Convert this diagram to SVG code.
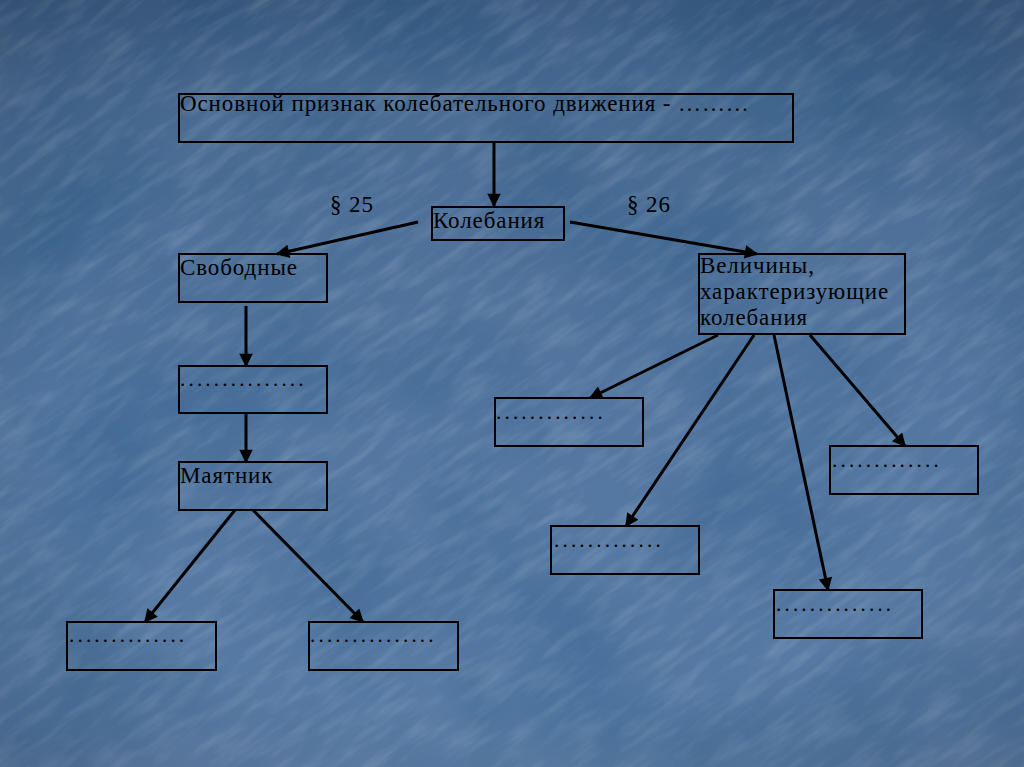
<svg xmlns="http://www.w3.org/2000/svg" width="1024" height="767" viewBox="0 0 1024 767">
<defs>
<style>
.box{fill:none;stroke:#000;stroke-width:2}
.t{font-family:"Liberation Serif","Times New Roman",serif;font-size:23px;letter-spacing:0.9px;fill:#000}
.d{font-family:"Liberation Serif","Times New Roman",serif;font-size:21px;fill:#000;letter-spacing:3.2px}
.c{stroke:#000;stroke-width:3;fill:none;marker-end:url(#ah)}
</style>
<marker id="ah" viewBox="0 0 10 10" refX="9" refY="5" markerWidth="5" markerHeight="4.5" orient="auto" markerUnits="strokeWidth">
<path d="M0,0 L10,5 L0,10 z" fill="#000"/>
</marker>
<linearGradient id="bg" x1="0" y1="0" x2="0" y2="1">
<stop offset="0" stop-color="#3f5f86"/>
<stop offset="0.12" stop-color="#4a6b92"/>
<stop offset="0.5" stop-color="#5376a0"/>
<stop offset="0.9" stop-color="#587ba5"/>
<stop offset="1" stop-color="#6080a8"/>
</linearGradient>
<radialGradient id="vig" cx="0.5" cy="0.5" r="0.75">
<stop offset="0.6" stop-color="#000" stop-opacity="0"/>
<stop offset="1" stop-color="#000" stop-opacity="0.15"/>
</radialGradient>
<filter id="tex" filterUnits="userSpaceOnUse" x="-500" y="-500" width="2024" height="1767">
<feTurbulence type="fractalNoise" baseFrequency="0.02 0.1" numOctaves="4" seed="7" result="n"/>
<feColorMatrix in="n" type="matrix" values="0 0 0 0 1  0 0 0 0 1  0 0 0 0 1  0 0 0 0.7 -0.3"/>
</filter>
<filter id="tex2" filterUnits="userSpaceOnUse" x="0" y="0" width="1024" height="767">
<feTurbulence type="fractalNoise" baseFrequency="0.006" numOctaves="3" seed="3" result="n"/>
<feColorMatrix in="n" type="matrix" values="0 0 0 0 0  0 0 0 0 0.05  0 0 0 0 0.15  0 0 0 0.9 -0.35"/>
</filter>
<clipPath id="clip"><rect width="1024" height="767"/></clipPath>
</defs>
<rect width="1024" height="767" fill="url(#bg)"/>
<g clip-path="url(#clip)">
<rect x="-500" y="-500" width="2024" height="1767" filter="url(#tex)" opacity="0.4" transform="rotate(-35 512 383)"/>
<rect width="1024" height="767" filter="url(#tex2)" opacity="0.5"/>
</g>
<rect width="1024" height="767" fill="url(#vig)"/>

<g id="connectors">
<line class="c" x1="494" y1="142" x2="494" y2="206"/>
<line class="c" x1="418" y1="222" x2="277" y2="254"/>
<line class="c" x1="570" y1="222" x2="757" y2="254"/>
<line class="c" x1="246" y1="306" x2="246" y2="366"/>
<line class="c" x1="246" y1="413" x2="246" y2="462"/>
<line class="c" x1="235" y1="510" x2="145" y2="622"/>
<line class="c" x1="253" y1="510" x2="363" y2="622"/>
<line class="c" x1="718" y1="335" x2="590" y2="398"/>
<line class="c" x1="754" y1="335" x2="626" y2="526"/>
<line class="c" x1="774" y1="335" x2="828" y2="590"/>
<line class="c" x1="810" y1="335" x2="905" y2="446"/>
</g>

<g id="n-top"><rect class="box" x="179" y="94" width="614" height="48"/><text class="t" x="180" y="111">Основной признак колебательного движения - ………</text></g>
<g id="n-p25"><text class="t" x="330" y="212">§ 25</text></g>
<g id="n-p26"><text class="t" x="627" y="212">§ 26</text></g>
<g id="n-kol"><rect class="box" x="432" y="207" width="132" height="33"/><text class="t" x="433" y="228">Колебания</text></g>
<g id="n-svob"><rect class="box" x="179" y="254" width="148" height="48"/><text class="t" x="180" y="275">Свободные</text></g>
<g id="n-vel"><rect class="box" x="699" y="254" width="206" height="80"/><text class="t" x="700" y="273">Величины,</text><text class="t" x="700" y="299">характеризующие</text><text class="t" x="700" y="325">колебания</text></g>
<g id="n-dotsL"><rect class="box" x="179" y="366" width="148" height="47"/><text class="d" x="180" y="386">...............</text></g>
<g id="n-mayat"><rect class="box" x="179" y="462" width="148" height="48"/><text class="t" x="180" y="483">Маятник</text></g>
<g id="n-bl"><rect class="box" x="67" y="622" width="149" height="48"/><text class="d" x="69" y="642">..............</text></g>
<g id="n-bm"><rect class="box" x="309" y="622" width="149" height="48"/><text class="d" x="310" y="642">...............</text></g>
<g id="n-ra"><rect class="box" x="495" y="398" width="148" height="48"/><text class="d" x="496" y="419">.............</text></g>
<g id="n-rb"><rect class="box" x="830" y="446" width="148" height="48"/><text class="d" x="832" y="467">.............</text></g>
<g id="n-rc"><rect class="box" x="551" y="526" width="148" height="48"/><text class="d" x="554" y="547">.............</text></g>
<g id="n-rd"><rect class="box" x="774" y="590" width="148" height="48"/><text class="d" x="776" y="611">..............</text></g>
</svg>
